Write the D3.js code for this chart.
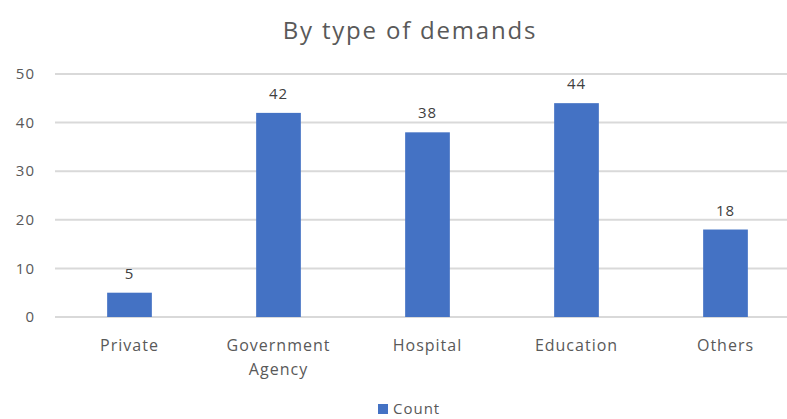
<!DOCTYPE html>
<html>
<head>
<meta charset="utf-8">
<script src="https://cdn.jsdelivr.net/npm/d3@7"></script>
<style>
  body { margin: 0; background: #fff; overflow: hidden; }
  svg { display: block; font-family: "Open Sans", "Noto Sans", sans-serif; }
</style>
</head>
<body>
<svg id="chart"></svg>
<script>
const categories = ['Private', 'Government Agency', 'Hospital', 'Education', 'Others'];
const counts = [5, 42, 38, 44, 18];
const yTicks = [0, 10, 20, 30, 40, 50];
const seriesName = 'Count';

const width = 787, height = 419;
const svg = d3.select('#chart').attr('width', width).attr('height', height);

const x = d3.scaleBand()
  .domain(categories)
  .range([55, 800])
  .paddingInner(0.7)
  .paddingOuter(0.35);

const y = d3.scaleLinear().domain([0, 50]).range([317, 74]);

// title
svg.append('text')
  .attr('x', 410).attr('y', 39)
  .attr('text-anchor', 'middle')
  .attr('fill', '#595959')
  .style('font-size', '24px')
  .style('letter-spacing', '1.8px')
  .text('By type of demands');

// gridlines
svg.append('g')
  .selectAll('line')
  .data(yTicks)
  .enter()
  .append('line')
  .attr('x1', 55).attr('x2', 800)
  .attr('y1', d => y(d)).attr('y2', d => y(d))
  .attr('stroke', '#d9d9d9')
  .attr('stroke-width', 2);

// y labels
svg.append('g')
  .selectAll('text')
  .data(yTicks)
  .enter()
  .append('text')
  .attr('x', 35).attr('y', d => y(d))
  .attr('dy', '0.35em')
  .attr('text-anchor', 'end')
  .attr('fill', '#595959')
  .style('font-size', '15px')
  .style('letter-spacing', '1px')
  .text(d => d);

// bars
const bars = svg.append('g')
  .selectAll('g')
  .data(categories.map((c, i) => ({ cat: c, value: counts[i] })))
  .enter()
  .append('g');

bars.append('rect')
  .attr('x', d => x(d.cat))
  .attr('y', d => y(d.value))
  .attr('width', x.bandwidth())
  .attr('height', d => y(0) - y(d.value))
  .attr('fill', '#4472c4');

bars.append('text')
  .attr('x', d => x(d.cat) + x.bandwidth() / 2)
  .attr('y', d => y(d.value) - 14)
  .attr('text-anchor', 'middle')
  .attr('fill', '#404040')
  .style('font-size', '15px')
  .style('letter-spacing', '1px')
  .text(d => d.value);

// category labels (wrap long ones)
const catLabels = svg.append('g')
  .selectAll('text')
  .data(categories)
  .enter()
  .append('text')
  .attr('text-anchor', 'middle')
  .attr('fill', '#595959')
  .style('font-size', '16px')
  .style('letter-spacing', '1px');

catLabels.each(function (d) {
  const words = d.split(' ');
  const t = d3.select(this);
  words.forEach((w, i) => {
    t.append('tspan')
      .attr('x', x(d) + x.bandwidth() / 2)
      .attr('y', 351 + i * 24)
      .text(w);
  });
});

// legend
const legend = svg.append('g');
legend.append('rect')
  .attr('x', 378).attr('y', 404)
  .attr('width', 10).attr('height', 10)
  .attr('fill', '#4472c4');
legend.append('text')
  .attr('x', 393).attr('y', 414)
  .attr('fill', '#595959')
  .style('font-size', '15px')
  .style('letter-spacing', '1px')
  .text(seriesName);
</script>
</body>
</html>
